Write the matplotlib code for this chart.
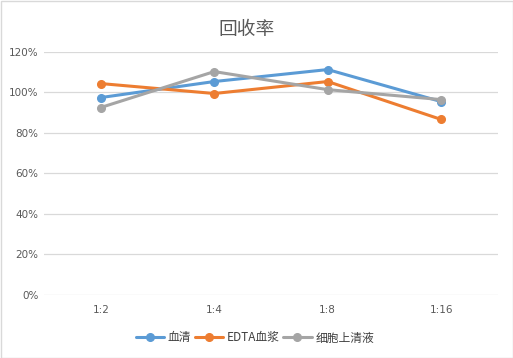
import matplotlib
matplotlib.use("Agg")
import matplotlib.pyplot as plt
from matplotlib.ticker import FuncFormatter

plt.rcParams['font.family'] = ['Noto Sans CJK SC', 'DejaVu Sans']

categories = ["1:2", "1:4", "1:8", "1:16"]
serum = [97.3, 105.2, 111.1, 95.3]
edta = [104.2, 99.3, 105.2, 86.5]
cell = [92.4, 110.1, 101.2, 96.3]
series_names = ["血清", "EDTA血浆", "细胞上清液"]
colors = ["#5B9BD5", "#ED7D31", "#A5A5A5"]

W, H = 513, 358
fig = plt.figure(figsize=(W/100, H/100), dpi=100)
ax = fig.add_axes([44/W, 1-295/H, (498-44)/W, (295-51.5)/H])

x = range(len(categories))
for vals, name, c in zip([serum, edta, cell], series_names, colors):
    ax.plot(x, vals, color=c, lw=2.2, marker='o', ms=5.5, label=name, solid_capstyle='round')

ax.set_xlim(-0.5, len(categories)-0.5)
ax.set_ylim(0, 120)
ax.set_yticks(range(0, 121, 20))
ax.yaxis.set_major_formatter(FuncFormatter(lambda v, p: f"{int(v)}%"))
ax.set_xticks(list(x))
ax.set_xticklabels(categories)
ax.grid(axis='y', color='#D9D9D9', lw=0.9)
ax.set_axisbelow(True)
for s in ax.spines.values():
    s.set_visible(False)
ax.tick_params(length=0, colors='#595959')
ax.tick_params(axis='y', pad=4)
ax.tick_params(axis='x', pad=7)
for lab in ax.get_yticklabels() + ax.get_xticklabels():
    lab.set_fontfamily(['DejaVu Sans'])
    lab.set_fontsize(7.5)

fig.text(247/W, 1-30/H, "回收率", ha='center', va='center', fontsize=13.5, color='#595959')

leg = fig.legend(loc='center', bbox_to_anchor=(255/W, 1-338/H), ncol=3, frameon=False,
                 fontsize=8.5, handlelength=2.4, columnspacing=0.3, handletextpad=0.3,
                 labelcolor='#404040')

fig.patches.append(plt.Rectangle((0.5/W, 0.5/H), 1-1/W, 1-1/H, transform=fig.transFigure,
                                 fill=False, edgecolor='#D9D9D9', lw=1))
fig.savefig("out.png", dpi=100)
